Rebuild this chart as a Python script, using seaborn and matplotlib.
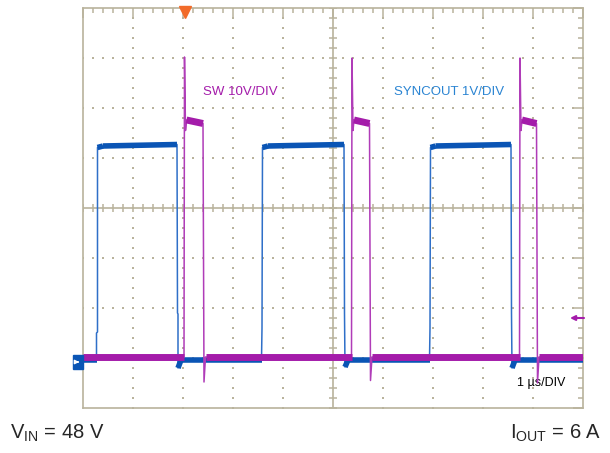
"""
Scope capture: SW node and SYNCOUT, VIN = 48 V, IOUT = 6 A
"""

import numpy as np
import pandas as pd
import matplotlib
matplotlib.use("Agg")
import matplotlib.pyplot as plt
import seaborn as sns

# ---------- data (x in us = divisions, y in divisions) ----------
sync_t = [0.00, 0.27, 0.27, 0.29, 0.29, 0.40, 1.88, 1.89, 1.90, 1.90, 1.96,
          3.57, 3.58, 3.59, 3.70, 5.22, 5.23, 5.24, 5.30,
          6.93, 6.94, 6.95, 7.05, 8.56, 8.57, 8.58, 8.64, 10.00]
sync_v = [-3.04, -3.04, -2.50, -2.48, 1.21, 1.24, 1.27, -2.10, -2.12, -3.20, -3.04,
          -3.04, -2.40, 1.21, 1.24, 1.27, -2.10, -3.18, -3.04,
          -3.04, -2.40, 1.21, 1.24, 1.27, -2.10, -3.20, -3.04, -3.04]

sw_t = [0.00, 2.02, 2.03, 2.05, 2.07, 2.40, 2.42, 2.45,
        5.37, 5.38, 5.40, 5.42, 5.73, 5.75, 5.78,
        8.73, 8.74, 8.76, 8.78, 9.07, 9.09, 9.12, 10.00]
sw_v = [-2.98, -2.98, 3.02, 1.55, 1.76, 1.69, -3.48, -2.98,
        -2.98, 3.00, 1.55, 1.76, 1.69, -3.45, -2.98,
        -2.98, 3.00, 1.55, 1.76, 1.69, -3.50, -2.98, -2.98]

labels = ["SW 10V/DIV", "SYNCOUT 1V/DIV", "1 \u00b5s/DIV"]
vin_text = r"$\mathregular{V_{IN}}$ = 48 V"
iout_text = r"$\mathregular{I_{OUT}}$ = 6 A"

SW_COLOR = "#a41caa"
SW_EDGE = "#b03cb8"
SYNC_COLOR = "#0a55b5"
SYNC_EDGE = "#2f6fc8"
SYNC_TEXT = "#2a84d2"
FRAME = "#b9b39c"

sns.set_theme(style="white")
plt.rcParams["font.family"] = ["Liberation Sans", "DejaVu Sans"]
plt.rcParams["mathtext.fontset"] = "custom"
plt.rcParams["mathtext.rm"] = "Liberation Sans"

fig = plt.figure(figsize=(6.10, 4.53), dpi=100)
ax = fig.add_axes([83 / 610, 45 / 453, 500 / 610, 400 / 453])
ax.set_xlim(0, 10)
ax.set_ylim(-4, 4)

# ---------- graticule ----------
dots = np.arange(0, 10.001, 0.2)
ys = np.arange(-4, 4.001, 0.2)
for gx in range(1, 10):
    if gx == 5:
        continue
    ax.scatter(np.full_like(ys, gx), ys, s=1.2, marker="s", color=FRAME, lw=0, zorder=1)
for gy in range(-3, 4):
    if gy == 0:
        continue
    ax.scatter(dots, np.full_like(dots, gy), s=1.2, marker="s", color=FRAME, lw=0, zorder=1)

ax.axvline(5, color=FRAME, lw=1.2, zorder=1)
ax.axhline(0, color=FRAME, lw=1.2, zorder=1)
ax.plot(dots, np.zeros_like(dots), ls="none", marker="|", ms=6, mew=1.1, color=FRAME, zorder=1)
ax.plot(np.full_like(ys, 5), ys, ls="none", marker="_", ms=6, mew=1.1, color=FRAME, zorder=1)

ax.set_xticks(np.arange(0, 11, 1))
ax.set_xticks(dots, minor=True)
ax.set_yticks(np.arange(-4, 5, 1))
ax.set_yticks(ys, minor=True)
ax.tick_params(which="both", direction="in", top=True, right=True, color=FRAME,
               labelbottom=False, labelleft=False, width=1.1)
ax.tick_params(which="major", length=7)
ax.tick_params(which="minor", length=3.6)
for sp in ax.spines.values():
    sp.set_color(FRAME)
    sp.set_linewidth(1.2)

# ---------- traces ----------
sync_df = pd.DataFrame({"t": sync_t, "v": sync_v})
sw_df = pd.DataFrame({"t": sw_t, "v": sw_v})


def noise_band(t, v, color, lw, z):
    # flat stretches of the trace carry visible noise -> draw them thicker
    for i in range(len(t) - 1):
        if abs(v[i + 1] - v[i]) < 0.2 and t[i + 1] - t[i] > 0.05:
            ax.plot([t[i], t[i + 1]], [v[i], v[i + 1]], color=color, lw=lw,
                    solid_capstyle="butt", zorder=z)


sns.lineplot(data=sync_df, x="t", y="v", sort=False, estimator=None,
             color=SYNC_EDGE, lw=1.1, ax=ax, zorder=3)
noise_band(sync_t, sync_v, SYNC_COLOR, 4.0, 3)
sns.lineplot(data=sw_df, x="t", y="v", sort=False, estimator=None,
             color=SW_EDGE, lw=1.1, ax=ax, zorder=4)
noise_band(sw_t, sw_v, SW_COLOR, 5.0, 4)
ax.set_xlabel("")
ax.set_ylabel("")

# ---------- markers ----------
ax.plot([2.04], [3.93], marker="v", ms=8, color="#f26b2a", clip_on=False, zorder=6)
ax.add_patch(plt.Rectangle((-0.2, -3.22), 0.2, 0.28, color=SYNC_COLOR, clip_on=False, zorder=6))
ax.annotate("", xy=(-0.02, -3.08), xytext=(-0.16, -3.08),
            arrowprops=dict(arrowstyle="-|>", color="white", lw=1, mutation_scale=6),
            annotation_clip=False, zorder=7)
ax.annotate("", xy=(9.74, -2.2), xytext=(10.02, -2.2),
            arrowprops=dict(arrowstyle="-|>", color=SW_COLOR, lw=1.5, mutation_scale=7,
                            shrinkA=0, shrinkB=0),
            annotation_clip=False, zorder=7)

# ---------- text ----------
ax.text(2.4, 2.33, labels[0], color=SW_COLOR, fontsize=9.5, va="center", ha="left")
ax.text(6.22, 2.33, labels[1], color=SYNC_TEXT, fontsize=9.5, va="center", ha="left")
ax.text(8.68, -3.5, labels[2], color="black", fontsize=9, va="center", ha="left")
fig.text(10 / 610, 1 - 433 / 453, vin_text, fontsize=14.5, va="center", ha="left")
fig.text(601 / 610, 1 - 433 / 453, iout_text, fontsize=14.5, va="center", ha="right")

fig.savefig("out.png", dpi=100)
